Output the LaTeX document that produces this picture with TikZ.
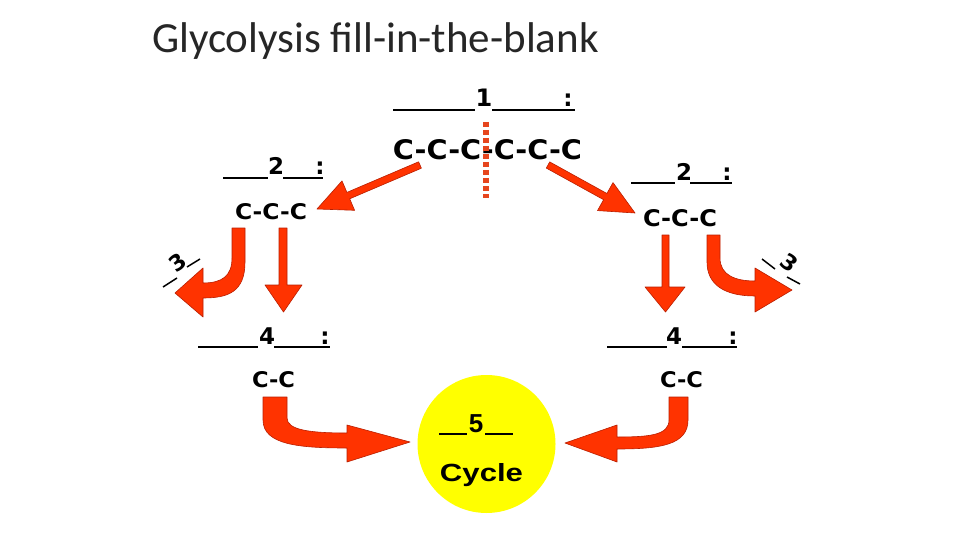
\documentclass[tikz,border=0pt]{standalone}
\usepackage{fontspec}
\usepackage{graphicx}
\setmainfont{DejaVu Sans}
\newfontfamily\titlefont{Carlito}
\newfontfamily\boldsans{Liberation Sans}
\definecolor{arrowred}{RGB}{255,51,0}
\definecolor{edgered}{RGB}{185,30,0}
\definecolor{dotred}{RGB}{230,70,30}
\definecolor{ballyellow}{RGB}{255,255,0}
\newcommand\fitbox[3]{\resizebox{#1pt}{#2pt}{#3}}
\begin{document}
\begin{tikzpicture}[x=1pt,y=-1pt,
  lbl/.style={inner sep=0pt, anchor=base, font=\fontsize{23}{25}\selectfont\bfseries},
  chain/.style={inner sep=0pt, font=\bfseries},
  uline/.style={line width=2pt, black},
  thinline/.style={line width=1.5pt, black},
  bigarrow/.style={fill=arrowred, draw=edgered, line width=0.6pt, line join=round},
  cutline/.style={dotred, line width=6pt, dash pattern=on 5pt off 3pt}]
\useasboundingbox (0,0) rectangle (960,540);
\fill[white] (0,0) rectangle (960,540);

% title
\node[anchor=base west, inner sep=0pt, text=black!85,
      font=\titlefont\fontsize{43}{50}\selectfont] (title) at (152,53)
      {Glycolysis fill-in-the-blank};

% ---- top: blank 1 and six-carbon chain
\draw[uline] (393,110) -- (475,110);
\node[lbl, font=\fontsize{24}{26}\selectfont\bfseries] (n1) at (484,107) {1};
\draw[uline] (492,110) -- (575,110);
\node[lbl] (c1) at (568,107) {:};
\node[chain] (six) at (487.5,150) {\fitbox{189}{20}{C-C-C-C-C-C}};
\coordinate (cutTop) at (486,122);
\coordinate (cutBot) at (486,198);
\draw[cutline] (cutTop) -- (cutBot);

% ---- left blank 2
\draw[uline] (223,178) -- (268,178);
\node[lbl] (n2l) at (276,175) {2};
\draw[uline] (283,178) -- (323,178);
\node[lbl] (c2l) at (320,175) {:};
\node[chain] (l3) at (271,212) {\fitbox{72}{16}{C-C-C}};

% ---- right blank 2
\draw[uline] (631,183) -- (675,183);
\node[lbl] (n2r) at (684,180) {2};
\draw[uline] (690,183) -- (732,183);
\node[lbl] (c2r) at (727,180) {:};
\node[chain] (r3) at (680,218) {\fitbox{74}{17}{C-C-C}};

% ---- diagonal arrows from the six-carbon chain
\draw[bigarrow] (421.4,168.2) -- (418.6,161.8) -- (346.9,192.4) -- (342.0,180.9)
   -- (317,209) -- (354.6,210.3) -- (349.7,198.8) -- cycle;
\draw[bigarrow] (546.3,168.1) -- (549.7,161.9) -- (606.9,193.5) -- (613.0,182.6)
   -- (635,213) -- (597.5,210.6) -- (603.6,199.7) -- cycle;

% ---- left: curved arrow (3) and straight arrow
\draw[bigarrow] (232,228) -- (245,228) -- (245,262)
   .. controls (245,292) and (228,298) .. (203,298) -- (203,317) -- (175,293)
   -- (203,268) -- (203,283) .. controls (222,283) and (232,276) .. (232,258) -- cycle;
\draw[bigarrow] (279,228) -- (287,228) -- (287,285) -- (302,285) -- (283.5,312)
   -- (265,285) -- (279,285) -- cycle;
\draw[thinline] (163,287) -- (177,278);
\node[inner sep=0pt, rotate=37, font=\fontsize{22}{24}\selectfont\bfseries] (n3l) at (178,262) {3};
\draw[thinline] (187,267) -- (200,259);

% ---- right: straight arrow and curved arrow (3)
\draw[bigarrow] (662,235) -- (669,235) -- (669,287) -- (685,287) -- (665.5,312)
   -- (645,287) -- (662,287) -- cycle;
\draw[bigarrow] (707,235) -- (720,235) -- (720,258)
   .. controls (720,275) and (735,281) .. (755,281) -- (755,268) -- (792,290)
   -- (755,312) -- (755,296) .. controls (725,296) and (707,285) .. (707,262) -- cycle;
\draw[thinline] (762,259) -- (775,269);
\node[inner sep=0pt, rotate=-37, font=\fontsize{22}{24}\selectfont\bfseries] (n3r) at (789,263) {3};
\draw[thinline] (787,277) -- (800,284);

% ---- left blank 4
\draw[uline] (198,347) -- (258,347);
\node[lbl] (n4l) at (267,344) {4};
\draw[uline] (274,347) -- (330,347);
\node[lbl] (c4l) at (325,344) {:};
\node[chain] (l2) at (273.5,380) {\fitbox{43}{16}{C-C}};

% ---- right blank 4
\draw[uline] (607,347) -- (667,347);
\node[lbl] (n4r) at (674,344) {4};
\draw[uline] (682,347) -- (737,347);
\node[lbl] (c4r) at (733,344) {:};
\node[chain] (r2) at (681.5,380) {\fitbox{43}{16}{C-C}};

% ---- cycle circle
\node[circle, fill=ballyellow, minimum size=138pt, inner sep=0pt] (cyc) at (486.5,444) {};
\draw[uline] (439,434) -- (467,434);
\node[inner sep=0pt, anchor=base, font=\boldsans\bfseries\fontsize{26}{28}\selectfont] (n5) at (476,432) {5};
\draw[uline] (485,434) -- (513,434);
\node[inner sep=0pt, anchor=base] (cycword) at (481.5,481) {\fitbox{83}{18}{\boldsans\bfseries Cycle}};

% ---- bottom curved arrows into the cycle
\draw[bigarrow] (263,397) -- (287,397) -- (287,418)
   .. controls (287,430) and (310,433) .. (347,433) -- (347,425) -- (410,442)
   -- (347,462) -- (347,448) .. controls (300,448) and (263,445) .. (263,420) -- cycle;
\draw[bigarrow] (688,397) -- (669,397) -- (669,420)
   .. controls (669,435) and (650,437) .. (617,437) -- (617,425) -- (565,443)
   -- (617,462) -- (617,449) .. controls (660,449) and (688,445) .. (688,420) -- cycle;
\end{tikzpicture}
\end{document}
